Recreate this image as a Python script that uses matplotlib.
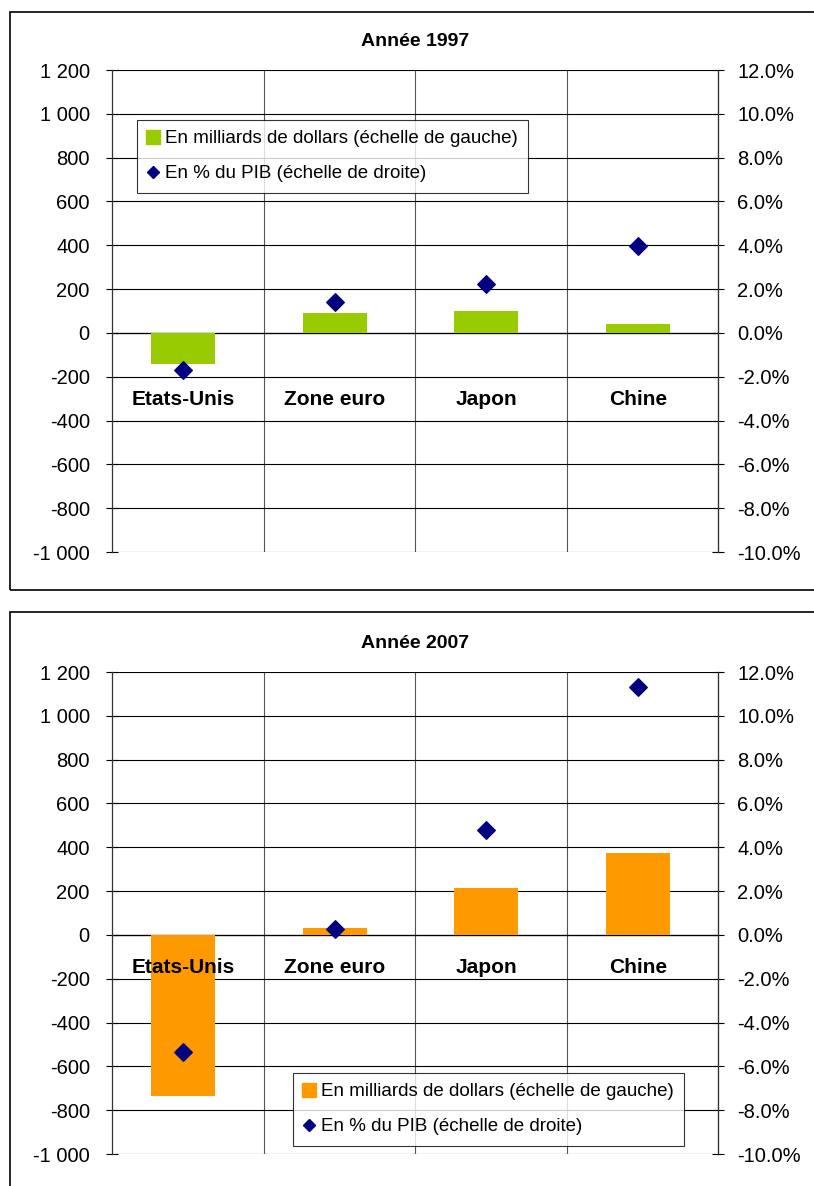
import matplotlib
matplotlib.use("Agg")
from matplotlib import pyplot as plt
from matplotlib.patches import Rectangle
from matplotlib.lines import Line2D
import numpy as np

plt.rcParams['font.family'] = ['Liberation Sans', 'DejaVu Sans']

pays = ['Etats-Unis', 'Zone euro', 'Japon', 'Chine']
annees = ['Année 1997', 'Année 2007']
dollars_1997 = [-141, 91, 100, 41]
pib_1997 = [-1.7, 1.4, 2.25, 3.95]
dollars_2007 = [-735, 32, 215, 374]
pib_2007 = [-5.35, 0.25, 4.8, 11.3]
couleurs = ['#99CC00', '#FF9900']
navy = '#000080'

W, H = 814, 1186
fig = plt.figure(figsize=(W / 100, H / 100), dpi=100)

def fy(p):
    return 1 - p / H

# panel borders
fig.patches.append(Rectangle((10 / W, fy(590)), 1.0, fy(12) - fy(590), transform=fig.transFigure,
                             fill=False, ec='black', lw=1.2))
fig.patches.append(Rectangle((10 / W, -0.1), 1.0, fy(612) + 0.1, transform=fig.transFigure,
                             fill=False, ec='black', lw=1.2))

panneaux = [
    (dollars_1997, pib_1997, couleurs[0], 70, 42, -305, (137, 120)),
    (dollars_2007, pib_2007, couleurs[1], 672, 644, -150, (293, 1073)),
]

x = np.arange(len(pays))
for k, (dol, pib, col, ytop, ytitle, ylab, leg) in enumerate(panneaux):
    ax = fig.add_axes([112 / W, fy(ytop + 482), 606 / W, 482 / H])
    ax.bar(x - 0.03, dol, width=0.42, color=col, zorder=3)
    ax.set_xlim(-0.5, 3.5)
    ax.set_ylim(-1000, 1200)
    yt = np.arange(-1000, 1201, 200)
    ax.set_yticks(yt)
    ax.set_yticklabels([f"{v:,}".replace(",", " ") for v in yt], fontsize=14.5)
    ax.set_xticks([])
    ax.set_xticks([0.5, 1.5, 2.5], minor=True)
    ax.tick_params(axis='x', which='minor', length=0)
    ax.grid(True, axis='y', color='black', lw=0.8, zorder=1)
    ax.grid(True, axis='x', which='minor', color='#555555', lw=0.8, zorder=1)
    ax.axhline(0, color='black', lw=0.9, zorder=2)
    ax.tick_params(axis='y', direction='inout', length=8, width=0.8, pad=12)
    for s in ['top', 'bottom']:
        ax.spines[s].set_visible(False)
    for s in ['left', 'right']:
        ax.spines[s].set_color('#333333')
        ax.spines[s].set_linewidth(0.9)

    ax2 = ax.twinx()
    ax2.set_ylim(-10, 12)
    pt = np.arange(-10, 12.1, 2)
    ax2.set_yticks(pt)
    ax2.set_yticklabels([f"{v:.1f}%" for v in pt], fontsize=14.5)
    ax2.tick_params(axis='y', direction='inout', length=8, width=0.8, pad=10)
    for s in ['top', 'bottom', 'left']:
        ax2.spines[s].set_visible(False)
    ax2.spines['right'].set_color('#333333')
    ax2.scatter(x - 0.03, pib, marker='D', s=80, color=navy, zorder=5)

    for i, p in enumerate(pays):
        ax.text(i - 0.03, ylab, p, ha='center', va='center', fontsize=15, fontweight='bold', zorder=6)

    fig.text(415 / W, fy(ytitle), annees[k], ha='center', va='center', fontsize=14, fontweight='bold')

    # legend box
    x0, y0 = leg
    handles = [Line2D([], [], ls='none', marker='s', ms=10, color=col),
               Line2D([], [], ls='none', marker='D', ms=6.5, color=navy)]
    labels = ['En milliards de dollars (échelle de gauche)', 'En % du PIB (échelle de droite)']
    lg = fig.legend(handles, labels, loc='upper left', bbox_to_anchor=(x0 / W, fy(y0)),
                    fontsize=13.5, frameon=True, fancybox=False, edgecolor='black',
                    handlelength=0.6, handletextpad=0.35, borderpad=0.55, labelspacing=0.95,
                    borderaxespad=0)
    lg.get_frame().set_linewidth(0.8)

fig.savefig('out.png', dpi=100)
